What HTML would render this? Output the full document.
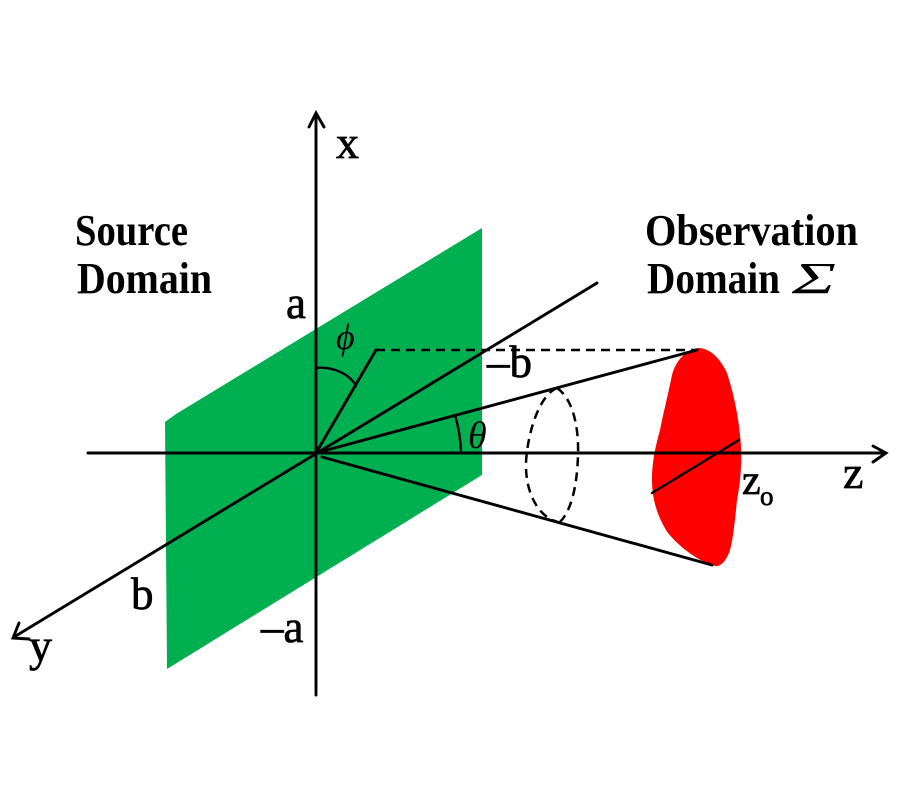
<!DOCTYPE html>
<html>
<head>
<meta charset="utf-8">
<style>
  html, body { margin: 0; padding: 0; background: #fff; }
  svg { display: block; }
  text { font-family: "Liberation Serif", serif; fill: #000; }
  .lab { stroke: #000; stroke-width: 0.7; }
</style>
</head>
<body>
<svg width="900" height="800" viewBox="0 0 900 800" xmlns="http://www.w3.org/2000/svg">
  <rect width="900" height="800" fill="#fff"/>

  <!-- green source plane -->
  <polygon points="165,422 176,414 482,228 482,475 167,669" fill="#00b050"/>

  <!-- red observation blob -->
  <path d="M698 348 C 712 348, 722 362, 727 373 C 734 395, 738 415, 740 435 C 743 460, 740 485, 737 500 C 735 520, 733 540, 730 550 C 726 562, 720 567, 715 566 C 700 562, 680 548, 668 533 C 658 518, 652 500, 652 480 C 652 460, 656 445, 660 430 C 664 410, 668 395, 672 375 C 676 360, 686 350, 698 348 Z" fill="#ff0000"/>

  <g stroke="#000" stroke-width="2.9" fill="none" stroke-linecap="round">
    <!-- x axis -->
    <line x1="316" y1="114" x2="316" y2="695"/>
    <polyline points="309,127 316,113 324,127"/>
    <!-- z axis -->
    <line x1="88" y1="453" x2="885" y2="453"/>
    <polyline points="873,446 886,453 873,462"/>
    <!-- y axis -->
    <line x1="14" y1="637" x2="597" y2="283"/>
    <polyline points="19,623 13,638 29,639"/>

    <!-- phi ray -->
    <line x1="316" y1="453" x2="376" y2="350"/>
    <!-- top ray to blob -->
    <line x1="316" y1="453" x2="697" y2="350"/>
    <!-- bottom ray to blob -->
    <line x1="322" y1="457" x2="712" y2="565"/>
    <!-- line across blob -->
    <line x1="652" y1="493" x2="739" y2="440" stroke-width="2.4"/>

    <!-- phi arc -->
    <path d="M316 368 C 332 366, 350 374, 356 386" stroke-width="2.4"/>
    <!-- theta arc -->
    <path d="M461 453 A 145 145 0 0 0 455 415" stroke-width="2.4"/>
  </g>

  <!-- dashed lines -->
  <g stroke="#000" stroke-width="2.5" fill="none" stroke-dasharray="9,6">
    <line x1="376" y1="350" x2="697" y2="350"/>
    <path d="M557 388 C 540 395, 528 430, 526 462 C 525 495, 540 518, 558 522"/>
    <path d="M557 388 C 572 398, 579 425, 578 455 C 577 490, 570 512, 560 522"/>
  </g>

  <!-- titles -->
  <text x="75" y="245" font-size="44" font-weight="bold" textLength="113" lengthAdjust="spacingAndGlyphs">Source</text>
  <text x="77" y="293" font-size="44" font-weight="bold" textLength="135" lengthAdjust="spacingAndGlyphs">Domain</text>
  <text x="645" y="245" font-size="44" font-weight="bold" textLength="213" lengthAdjust="spacingAndGlyphs">Observation</text>
  <text x="647" y="293" font-size="44" font-weight="bold" textLength="133" lengthAdjust="spacingAndGlyphs">Domain</text>
  <text x="792" y="293" font-size="44" font-style="italic" textLength="44" lengthAdjust="spacingAndGlyphs">Σ</text>

  <!-- axis labels -->
  <text class="lab" x="336" y="158" font-size="46">x</text>
  <text class="lab" x="843" y="488" font-size="46">z</text>
  <text class="lab" x="29" y="661" font-size="46">y</text>

  <!-- math labels -->
  <text class="lab" x="286" y="318" font-size="45">a</text>
  <text class="lab" x="131" y="609" font-size="45">b</text>
  <text class="lab" x="261" y="642" font-size="45">–a</text>
  <text class="lab" x="487" y="377" font-size="45">–b</text>
  <text class="lab" x="742" y="494" font-size="42">z</text>
  <text class="lab" x="760" y="505" font-size="27">o</text>
  <text x="468" y="448" font-size="38" font-style="italic">θ</text>
  <text x="336" y="349" font-size="36" font-style="italic">ϕ</text>
</svg>
</body>
</html>
